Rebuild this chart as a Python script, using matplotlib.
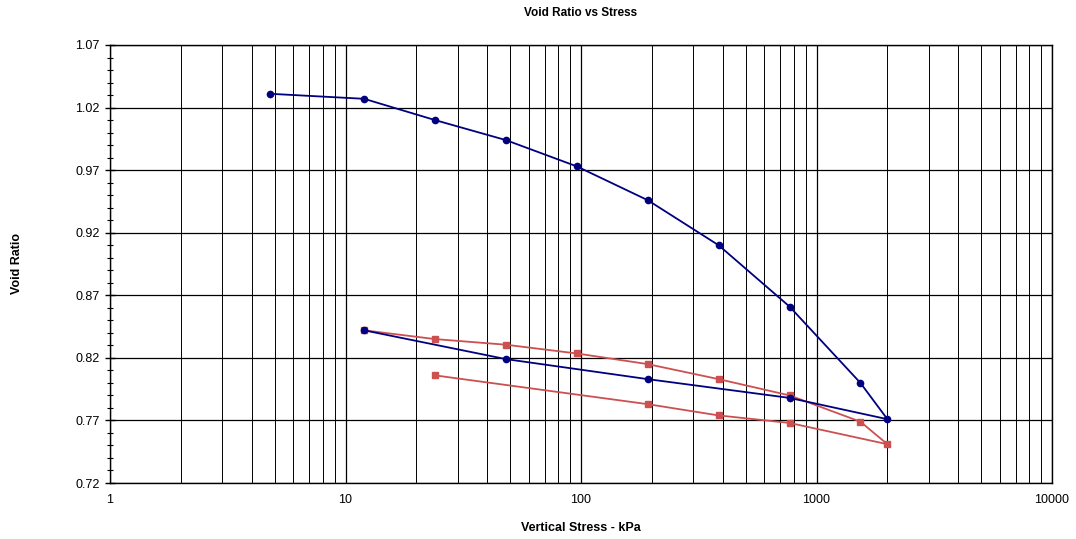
import matplotlib
matplotlib.use("Agg")
import matplotlib.pyplot as plt
from matplotlib.ticker import FixedLocator, MultipleLocator, NullFormatter

plt.rcParams['font.family'] = ['Liberation Sans', 'DejaVu Sans']

# Series 1 (blue): loading then unloading
stress_blue = [4.8, 12, 24, 48, 96, 192, 384, 768, 1536, 2000, 768, 192, 48, 12]
void_blue = [1.031, 1.027, 1.010, 0.994, 0.973, 0.946, 0.910, 0.861, 0.800, 0.771, 0.788, 0.803, 0.819, 0.842]

# Series 2 (red): reloading then unloading
stress_red = [12, 24, 48, 96, 192, 384, 768, 1536, 2000, 768, 384, 192, 24]
void_red = [0.842, 0.835, 0.8305, 0.8235, 0.815, 0.803, 0.790, 0.769, 0.751, 0.768, 0.774, 0.783, 0.806]

x_ticks = [1, 10, 100, 1000, 10000]
x_tick_labels = ["1", "10", "100", "1000", "10000"]
y_ticks = [0.72, 0.77, 0.82, 0.87, 0.92, 0.97, 1.02, 1.07]

fig = plt.figure(figsize=(10.76, 5.39), dpi=100)
ax = fig.add_axes([110/1076, 1-483/539, (1052-110)/1076, (483-45)/539])

ax.set_xscale('log')
ax.set_xlim(1, 10000)
ax.set_ylim(0.72, 1.07)

ax.xaxis.set_major_locator(FixedLocator(x_ticks))
ax.set_xticklabels(x_tick_labels)
minor_x = [m * 10**d for d in range(0, 4) for m in range(2, 10)]
ax.xaxis.set_minor_locator(FixedLocator(minor_x))
ax.xaxis.set_minor_formatter(NullFormatter())

ax.yaxis.set_major_locator(FixedLocator(y_ticks))
ax.set_yticklabels([f"{v:.2f}" for v in y_ticks])
ax.yaxis.set_minor_locator(MultipleLocator(0.01))

ax.grid(True, which='major', axis='both', color='black', linewidth=0.9)
ax.grid(True, which='minor', axis='x', color='black', linewidth=0.7)
ax.set_axisbelow(True)

ax.plot(stress_blue, void_blue, color='#000080', marker='o', markersize=4.5,
        linewidth=1.3, zorder=4)
ax.plot(stress_red, void_red, color='#CD5050', marker='s', markersize=4.5,
        linewidth=1.3, zorder=3)

for s in ax.spines.values():
    s.set_color('black')
    s.set_linewidth(1.0)

ax.tick_params(axis='y', which='major', direction='inout', length=7, width=1, labelsize=9, pad=4)
ax.tick_params(axis='y', which='minor', direction='inout', length=4, width=0.8)
ax.tick_params(axis='x', which='major', direction='in', length=0, labelsize=9, pad=8)
ax.tick_params(axis='x', which='minor', length=0)

fig.text((110+1052)/2/1076, 1-13/539, "Void Ratio vs Stress", ha='center', va='center',
         fontsize=8.5, fontweight='bold')
fig.text((110+1052)/2/1076, 1-528/539, "Vertical Stress - kPa", ha='center', va='center',
         fontsize=9, fontweight='bold')
fig.text(17/1076, 1-264/539, "Void Ratio", ha='center', va='center', rotation=90,
         fontsize=9, fontweight='bold')

fig.savefig('out.png', dpi=100, facecolor='white')
